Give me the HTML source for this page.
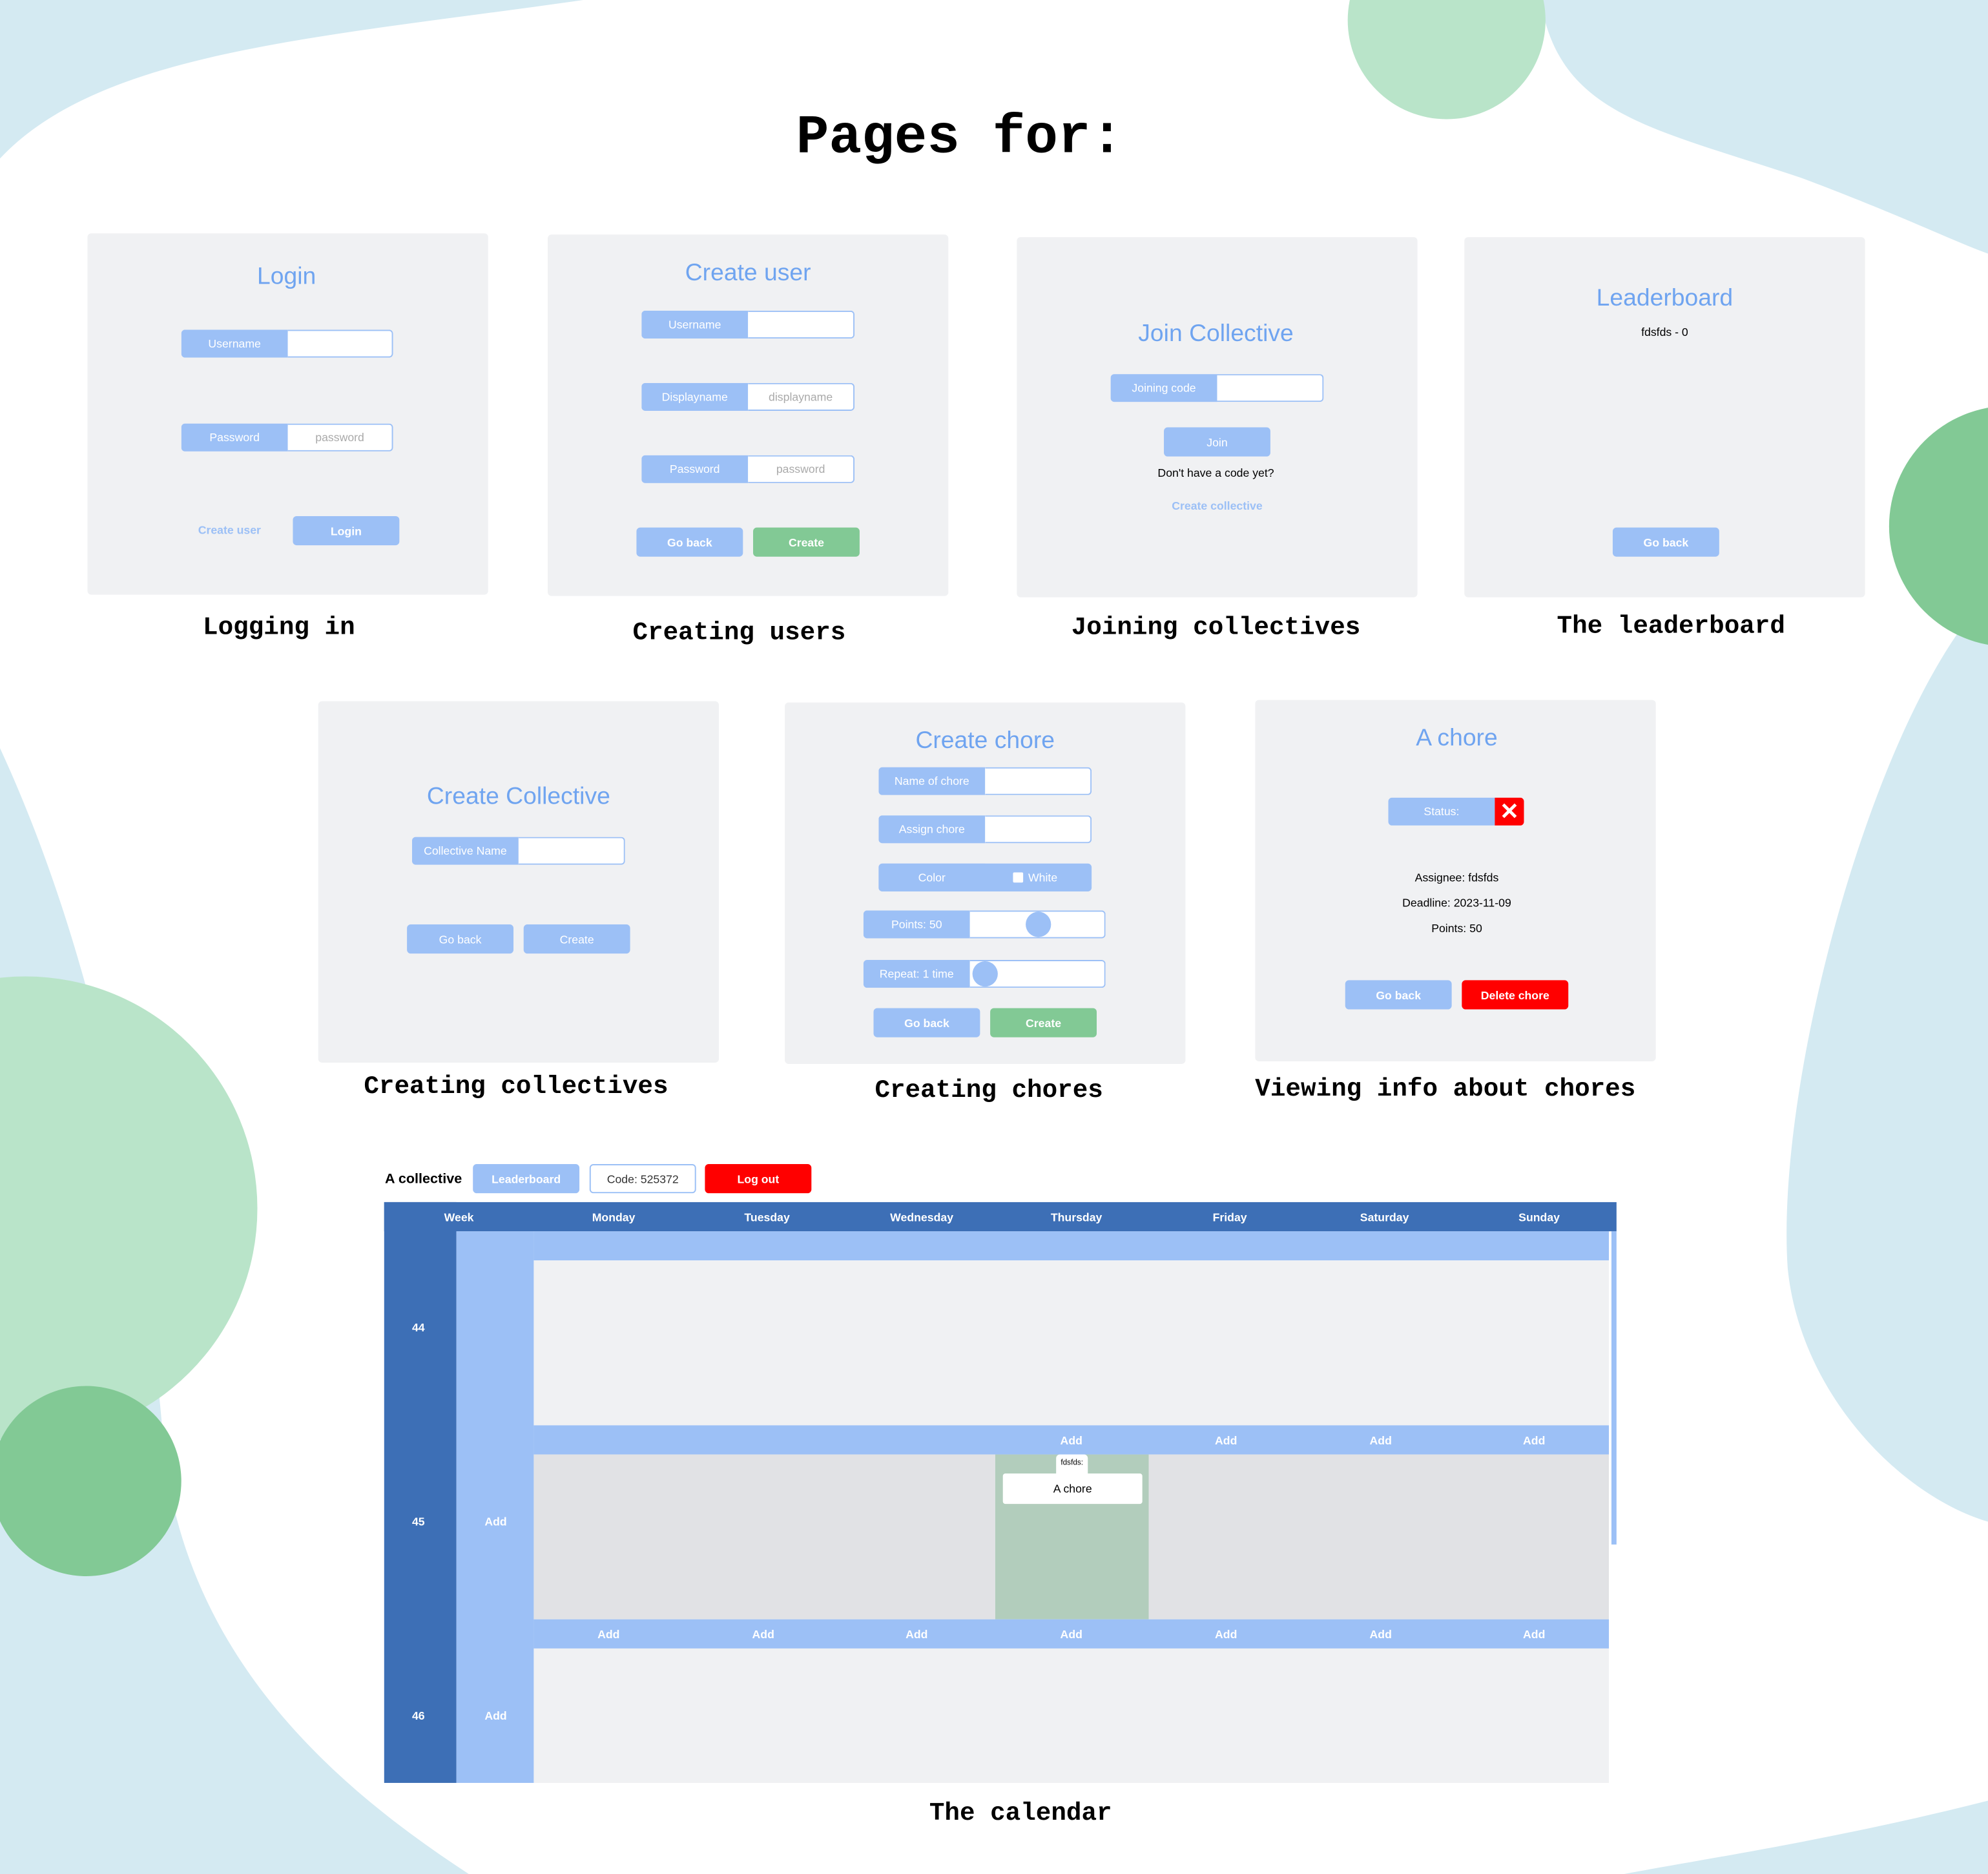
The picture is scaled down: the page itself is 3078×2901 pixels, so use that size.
<!DOCTYPE html>
<html><head><meta charset="utf-8"><style>
html,body{margin:0;padding:0;width:3078px;height:2901px;overflow:hidden;background:#fff}
#w{position:absolute;left:0;top:0;width:1568px;height:1478px;transform:scale(1.963);transform-origin:0 0;font-family:"Liberation Sans",sans-serif}
.a{position:absolute}
.card{position:absolute;background:#f0f1f3;border-radius:3px}
.cap{position:absolute;font-family:"Liberation Mono",monospace;font-weight:bold;font-size:20px;color:#000;transform:translateX(-50%);white-space:nowrap}
.ttl{position:absolute;color:#6fa4f0;font-size:19px;transform:translate(-50%,3px);white-space:nowrap}
.grp{position:absolute;height:22px;display:flex;border-radius:3px;overflow:hidden;font-size:9px}
.lb{background:#9cc0f6;color:#fff;width:84px;display:flex;align-items:center;justify-content:center}
.in{flex:1;background:#fff;border:1px solid #9cc0f6;border-left:none;color:#aaa;display:flex;align-items:center;justify-content:center;border-radius:0 3px 3px 0}
.btn{position:absolute;width:84px;height:23px;border-radius:3px;background:#9cc0f6;color:#fff;font-size:9px;font-weight:bold;display:flex;align-items:center;justify-content:center}
.g{background:#82c995}.r{background:#f00}
.t{position:absolute;font-size:9px;transform:translate(-50%,-50%);white-space:nowrap}
.wh{color:#fff;font-weight:bold}
</style></head><body><div id="w">
<svg class="a" style="left:0;top:0" width="1568" height="1478">
<rect width="1568" height="1478" fill="#d4eaf2"/>
<path d="M0,125 C80,40 250,30 460,0 L1215,0 C1230,90 1300,100 1420,140 C1500,170 1540,190 1568,200 L1568,470 C1480,560 1400,850 1410,1000 C1420,1100 1500,1180 1568,1200 L1568,1420 C1450,1450 1350,1465 1280,1478 L370,1478 C250,1400 150,1300 130,1150 C110,900 60,720 0,590 Z" fill="#fff"/>
<circle cx="1141" cy="16" r="78" fill="#b9e4c9"/>
<circle cx="1585" cy="415" r="95" fill="#82c995"/>
<circle cx="20" cy="953" r="183" fill="#b9e4c9"/>
<circle cx="68" cy="1168" r="75" fill="#82c995"/>
</svg>
<div class="cap" style="left:757px;top:84px;font-size:43px">Pages for:</div>

<div class="card" style="left:69px;top:184px;width:316px;height:285px"></div>
<div class="ttl" style="left:226px;top:205px">Login</div>
<div class="grp" style="left:143px;top:260px;width:167px"><div class="lb">Username</div><div class="in"></div></div>
<div class="grp" style="left:143px;top:334px;width:167px"><div class="lb">Password</div><div class="in">password</div></div>
<div class="t" style="left:181px;top:418px;color:#9cc0f6;font-weight:bold">Create user</div>
<div class="btn" style="left:231px;top:407px">Login</div>
<div class="cap" style="left:220px;top:484px">Logging in</div>

<div class="card" style="left:432px;top:185px;width:316px;height:285px"></div>
<div class="ttl" style="left:590px;top:202px">Create user</div>
<div class="grp" style="left:506px;top:245px;width:168px"><div class="lb">Username</div><div class="in"></div></div>
<div class="grp" style="left:506px;top:302px;width:168px"><div class="lb">Displayname</div><div class="in">displayname</div></div>
<div class="grp" style="left:506px;top:359px;width:168px"><div class="lb">Password</div><div class="in">password</div></div>
<div class="btn" style="left:502px;top:416px">Go back</div>
<div class="btn g" style="left:594px;top:416px">Create</div>
<div class="cap" style="left:583px;top:488px">Creating users</div>

<div class="card" style="left:802px;top:187px;width:316px;height:284px"></div>
<div class="ttl" style="left:959px;top:250px">Join Collective</div>
<div class="grp" style="left:876px;top:295px;width:168px"><div class="lb">Joining code</div><div class="in"></div></div>
<div class="btn" style="left:918px;top:337px;font-weight:normal">Join</div>
<div class="t" style="left:959px;top:373px">Don't have a code yet?</div>
<div class="t" style="left:960px;top:399px;color:#9cc0f6;font-weight:bold">Create collective</div>
<div class="cap" style="left:959px;top:484px">Joining collectives</div>

<div class="card" style="left:1155px;top:187px;width:316px;height:284px"></div>
<div class="ttl" style="left:1313px;top:222px">Leaderboard</div>
<div class="t" style="left:1313px;top:262px">fdsfds - 0</div>
<div class="btn" style="left:1272px;top:416px">Go back</div>
<div class="cap" style="left:1318px;top:483px">The leaderboard</div>

<div class="card" style="left:251px;top:553px;width:316px;height:285px"></div>
<div class="ttl" style="left:409px;top:615px">Create Collective</div>
<div class="grp" style="left:325px;top:660px;width:168px"><div class="lb">Collective Name</div><div class="in"></div></div>
<div class="btn" style="left:321px;top:729px;font-weight:normal">Go back</div>
<div class="btn" style="left:413px;top:729px;font-weight:normal">Create</div>
<div class="cap" style="left:407px;top:846px">Creating collectives</div>

<div class="card" style="left:619px;top:554px;width:316px;height:285px"></div>
<div class="ttl" style="left:777px;top:571px">Create chore</div>
<div class="grp" style="left:693px;top:605px;width:168px"><div class="lb">Name of chore</div><div class="in"></div></div>
<div class="grp" style="left:693px;top:643px;width:168px"><div class="lb">Assign chore</div><div class="in"></div></div>
<div class="grp" style="left:693px;top:681px;width:168px;background:#9cc0f6"><div class="lb">Color</div><div style="flex:1;color:#fff;display:flex;align-items:center;padding-left:22px"><span style="display:inline-block;width:8px;height:8px;background:#fff;margin-right:4px;border-radius:1px"></span>White</div></div>
<div class="grp" style="left:681px;top:718px;width:191px"><div class="lb">Points: 50</div><div class="in"></div></div>
<div class="a" style="left:809px;top:719px;width:20px;height:20px;border-radius:50%;background:#9cc0f6"></div>
<div class="grp" style="left:681px;top:757px;width:191px"><div class="lb">Repeat: 1 time</div><div class="in"></div></div>
<div class="a" style="left:767px;top:758px;width:20px;height:20px;border-radius:50%;background:#9cc0f6"></div>
<div class="btn" style="left:689px;top:795px">Go back</div>
<div class="btn g" style="left:781px;top:795px">Create</div>
<div class="cap" style="left:780px;top:849px">Creating chores</div>

<div class="card" style="left:990px;top:552px;width:316px;height:285px"></div>
<div class="ttl" style="left:1149px;top:569px">A chore</div>
<div class="grp" style="left:1095px;top:629px;width:107px"><div class="lb">Status:</div><div style="flex:1;background:#f00;color:#fff;display:flex;align-items:center;justify-content:center;font-size:18px;font-weight:bold">✕</div></div>
<div class="t" style="left:1149px;top:692px">Assignee: fdsfds</div>
<div class="t" style="left:1149px;top:712px">Deadline: 2023-11-09</div>
<div class="t" style="left:1149px;top:732px">Points: 50</div>
<div class="btn" style="left:1061px;top:773px">Go back</div>
<div class="btn r" style="left:1153px;top:773px">Delete chore</div>
<div class="cap" style="left:1140px;top:848px">Viewing info about chores</div>

<div class="t" style="left:334px;top:930px;font-size:11px;font-weight:bold">A collective</div>
<div class="btn" style="left:373px;top:918px">Leaderboard</div>
<div class="btn" style="left:465px;top:918px;background:#fff;border:1px solid #9cc0f6;color:#333;font-weight:normal;box-sizing:border-box">Code: 525372</div>
<div class="btn r" style="left:556px;top:918px">Log out</div>
<div class="a" style="left:303px;top:948px;width:972px;height:23px;background:#3d6fb6"></div>
<div class="a" style="left:303px;top:948px;width:57px;height:458px;background:#3d6fb6"></div>
<div class="a" style="left:360px;top:971px;width:61px;height:435px;background:#9cc0f6"></div>
<div class="a" style="left:421px;top:971px;width:848px;height:23px;background:#9cc0f6"></div>
<div class="a" style="left:421px;top:994px;width:848px;height:130px;background:#f0f1f3"></div>
<div class="a" style="left:421px;top:1124px;width:848px;height:23px;background:#9cc0f6"></div>
<div class="a" style="left:421px;top:1147px;width:848px;height:130px;background:#e1e2e5"></div>
<div class="a" style="left:785px;top:1147px;width:121px;height:130px;background:#b2cdbc"></div>
<div class="a" style="left:421px;top:1277px;width:848px;height:23px;background:#9cc0f6"></div>
<div class="a" style="left:421px;top:1300px;width:848px;height:106px;background:#f0f1f3"></div>
<div class="a" style="left:1271px;top:971px;width:4px;height:247px;background:#9cc0f6"></div>
<div class="t wh" style="left:362px;top:960px">Week</div>
<div class="t wh" style="left:484px;top:960px">Monday</div>
<div class="t wh" style="left:605px;top:960px">Tuesday</div>
<div class="t wh" style="left:727px;top:960px">Wednesday</div>
<div class="t wh" style="left:849px;top:960px">Thursday</div>
<div class="t wh" style="left:970px;top:960px">Friday</div>
<div class="t wh" style="left:1092px;top:960px">Saturday</div>
<div class="t wh" style="left:1214px;top:960px">Sunday</div>
<div class="t wh" style="left:330px;top:1047px">44</div>
<div class="t wh" style="left:330px;top:1200px">45</div>
<div class="t wh" style="left:330px;top:1353px">46</div>
<div class="t wh" style="left:391px;top:1200px">Add</div>
<div class="t wh" style="left:391px;top:1353px">Add</div>
<div class="t wh" style="left:845px;top:1136px">Add</div>
<div class="t wh" style="left:967px;top:1136px">Add</div>
<div class="t wh" style="left:1089px;top:1136px">Add</div>
<div class="t wh" style="left:1210px;top:1136px">Add</div>
<div class="t wh" style="left:480px;top:1289px">Add</div>
<div class="t wh" style="left:602px;top:1289px">Add</div>
<div class="t wh" style="left:723px;top:1289px">Add</div>
<div class="t wh" style="left:845px;top:1289px">Add</div>
<div class="t wh" style="left:967px;top:1289px">Add</div>
<div class="t wh" style="left:1089px;top:1289px">Add</div>
<div class="t wh" style="left:1210px;top:1289px">Add</div>
<div class="a" style="left:833px;top:1147px;width:25px;height:16px;background:#fff;border-radius:3px 3px 0 0;font-size:6px;text-align:center;line-height:14px">fdsfds:</div>
<div class="a" style="left:791px;top:1162px;width:110px;height:24px;background:#fff;border-radius:2px;font-size:9px;text-align:center;line-height:24px">A chore</div>
<div class="cap" style="left:805px;top:1419px">The calendar</div>
</div></body></html>
